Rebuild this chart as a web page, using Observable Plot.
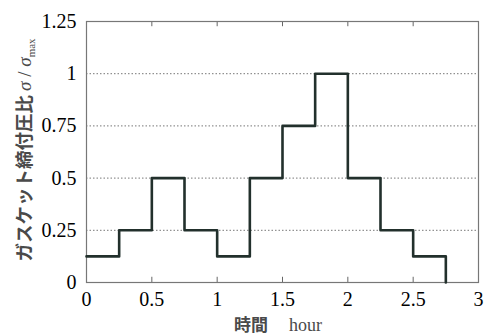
<!DOCTYPE html>
<html><head><meta charset="utf-8">
<script src="https://cdn.jsdelivr.net/npm/d3@7"></script>
<script src="https://cdn.jsdelivr.net/npm/@observablehq/plot@0.6"></script>
<style>
html,body{margin:0;padding:0;background:#fff;font-family:'Liberation Serif',serif;}
</style>
</head><body>
<div id="chart"></div>
<script>
// data: step boundaries (hour) and gasket pressure ratio
const times  = [0, 0.25, 0.5, 0.75, 1, 1.25, 1.5, 1.75, 2, 2.25, 2.5, 2.75];
const ratios = [0.125, 0.25, 0.5, 0.25, 0.125, 0.5, 0.75, 1, 0.5, 0.25, 0.125, 0];
const xTicks = [0, 0.5, 1, 1.5, 2, 2.5, 3];
const yTicks = [0, 0.25, 0.5, 0.75, 1, 1.25];
const gridTicks = [0.25, 0.5, 0.75, 1];
const innerTicks = [0.5, 1, 1.5, 2, 2.5];

const data = times.map((t, i) => ({t, r: ratios[i]}));
const serif = "Liberation Serif";

const plot = Plot.plot({
  width: 486, height: 336,
  marginLeft: 86, marginRight: 8, marginTop: 21, marginBottom: 54,
  style: {fontFamily: serif, fontSize: "20px"},
  x: {domain: [0, 3]},
  y: {domain: [0, 1.25]},
  marks: [
    Plot.gridY(gridTicks, {stroke: "#777", strokeOpacity: 1, strokeDasharray: "1.5,2", strokeWidth: 1}),
    Plot.ruleX(innerTicks, {y1: 0, y2: 0.025, stroke: "#666"}),
    Plot.ruleX(innerTicks, {y1: 1.25, y2: 1.225, stroke: "#666"}),
    Plot.frame({stroke: "#777", strokeWidth: 1.2}),
    Plot.line(data, {x: "t", y: "r", curve: "step-after", stroke: "#22302c", strokeWidth: 2.6}),
    Plot.axisX(xTicks, {tickSize: 0, tickPadding: 9, tickFormat: d => String(d), label: null}),
    Plot.axisY(yTicks, {tickSize: 0, tickPadding: 10, tickFormat: d => String(d), label: null})
  ]
});

const svg = d3.select(plot);
// serif tick labels
svg.selectAll("text").attr("font-family", serif).attr("font-size", 20);

// y axis label
const yl = svg.append("text")
  .attr("transform", "translate(31,150) rotate(-90)")
  .attr("text-anchor", "middle")
  .attr("fill", "#4a4a4a");
yl.append("tspan").attr("font-family", "Noto Sans CJK JP").attr("font-weight", "bold").attr("font-size", 18.5).text("ガスケット締付圧比 ");
yl.append("tspan").attr("font-family", serif).attr("font-style", "italic").attr("font-size", 19).text("σ");
yl.append("tspan").attr("font-family", serif).attr("font-size", 19).text(" / ");
yl.append("tspan").attr("font-family", serif).attr("font-style", "italic").attr("font-size", 19).text("σ");
yl.append("tspan").attr("font-family", serif).attr("font-size", 11).attr("dy", 4).text("max");

// x axis label
const xl = svg.append("text")
  .attr("x", 278).attr("y", 331)
  .attr("text-anchor", "middle")
  .attr("fill", "#4a4a4a");
xl.append("tspan").attr("font-family", "Noto Sans CJK JP").attr("font-weight", "bold").attr("font-size", 17).text("時間\u3000 ");
xl.append("tspan").attr("font-family", serif).attr("font-size", 18).text("hour");

document.getElementById("chart").appendChild(plot);
</script>
</body></html>
